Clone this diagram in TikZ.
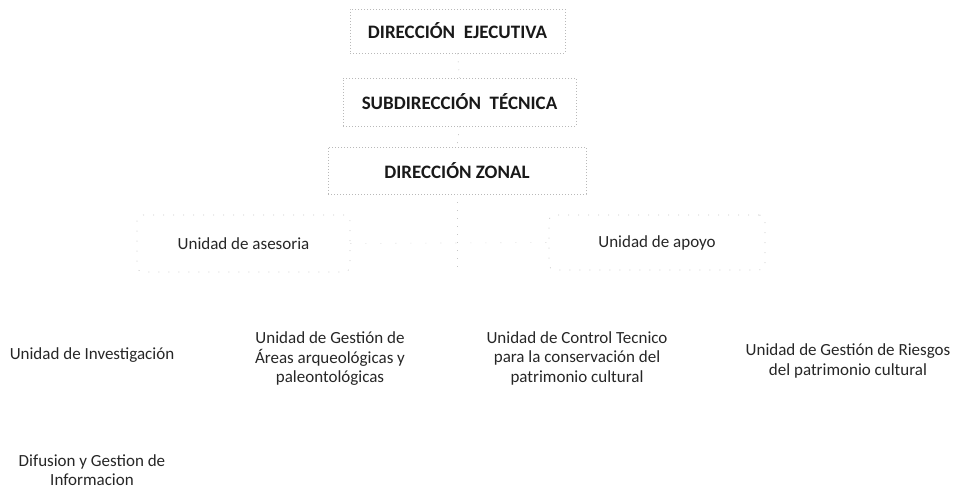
\documentclass[tikz,border=0pt]{standalone}
\usepackage{fontspec}
\setmainfont{Carlito}
\begin{document}
\begin{tikzpicture}[x=1pt,y=-1pt,
  topbox/.style={draw=gray!55, line width=0.6pt, dash pattern=on 1.2pt off 1.8pt, inner sep=0pt,
    font=\fontsize{19}{22}\selectfont\bfseries, text=black!90},
  unitbox/.style={draw=gray!45, line width=0.6pt, dash pattern=on 1pt off 9pt, rounded corners=6pt, inner sep=0pt,
    font=\fontsize{17}{20}\selectfont, text=black!85},
  unit/.style={align=center, inner sep=0pt, font=\fontsize{17}{19.5}\selectfont, text=black!85},
  conn/.style={draw=gray!45, line width=0.6pt, dash pattern=on 1pt off 7pt}]
\useasboundingbox (0,0) rectangle (955,489);
\node[topbox, minimum width=215pt, minimum height=44pt] (e) at (457.5,31) {DIRECCIÓN\ \ EJECUTIVA};
\node[topbox, minimum width=233pt, minimum height=48pt] (s) at (459.5,102) {SUBDIRECCIÓN\ \ TÉCNICA};
\node[topbox, minimum width=258pt, minimum height=47pt] (z) at (457,170.5) {DIRECCIÓN ZONAL};
\node[unitbox, minimum width=213pt, minimum height=57pt] (ase) at (243.5,243.5) {Unidad de asesoria};
\node[unitbox, minimum width=216pt, minimum height=55pt] (apo) at (657,242.5) {Unidad de apoyo};
\coordinate (m) at (457,272);
\draw[conn] (e.south) -- (s.north);
\draw[conn] (s.south) -- (z.north);
\draw[conn] (z.south) -- (m);
\draw[conn, draw=gray!30, dash pattern=on 1pt off 14pt] (ase.east) -- (apo.west);
\node[unit] (inv) at (92,355) {Unidad de Investigación};
\node[unit] (gea) at (330,359) {Unidad de Gestión de\\Áreas arqueológicas y\\paleontológicas};
\node[unit] (ctl) at (577,358) {Unidad de Control Tecnico\\para la conservación del\\patrimonio cultural};
\node[unit] (rie) at (848,361) {Unidad de Gestión de Riesgos\\del patrimonio cultural};
\node[unit] (dif) at (92,470) {Difusion y Gestion de\\Informacion};
\end{tikzpicture}
\end{document}
